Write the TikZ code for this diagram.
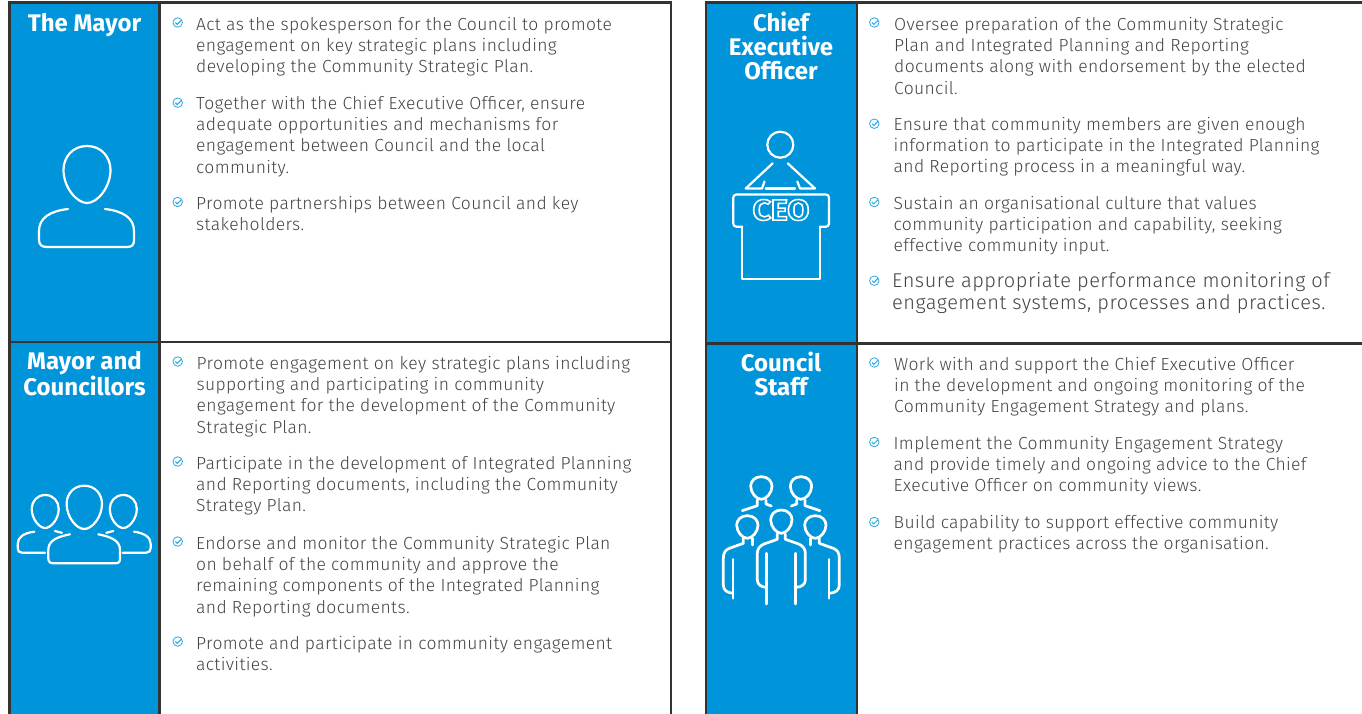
\documentclass[tikz,border=0pt]{standalone}
\usepackage{fontspec}
\setmainfont{Fira Sans}[UprightFont=* Light,BoldFont=* Bold]
\newfontfamily\bigfont{Fira Sans}[UprightFont=* Light,LetterSpace=2.6]
\newfontfamily\bodyfont{Fira Sans}[UprightFont=* Light,LetterSpace=2]
\usetikzlibrary{calc}
\definecolor{panelblue}{HTML}{0095DA}
\definecolor{edge}{HTML}{333333}
\definecolor{ink}{HTML}{444444}
\definecolor{tickblue}{HTML}{2AA8E0}
\tikzset{
 x=1pt,y=-1pt,
 panel/.style={fill=panelblue,draw=none},
 rule/.style={draw=edge,line width=2.6pt},
 title/.style={text=white,font=\fontsize{24}{24}\selectfont\bfseries,align=center,anchor=north,inner sep=0pt},
 body/.style={text=ink,font=\fontsize{17.5}{21.3}\selectfont\bodyfont,align=left,anchor=north west,inner sep=0pt},
 bodybig/.style={text=ink,font=\fontsize{20}{22}\selectfont\bigfont,align=left,anchor=north west,inner sep=0pt},
 tick/.style={circle,draw=tickblue,line width=.8pt,minimum size=9.5pt,inner sep=0pt,
   path picture={\draw[tickblue,line width=1pt] ($(path picture bounding box.center)+(-2.4,0)$) -- ++(1.9,1.9) -- ++(4.2,-4.2);}},
 icon/.style={draw=white,line width=2.2pt,line cap=round,line join=round,fill=none},
 iconthin/.style={draw=white,line width=2.2pt,line cap=round,line join=round,fill=none},
 iconheavy/.style={draw=white,line width=2.7pt,line cap=round,line join=round,fill=none},
}
\newcommand{\egg}[4]{% cx, top, half width, height
 (#1,#2) .. controls ({#1+.62*#3},#2) and ({#1+#3},{#2+.2*#4}) .. ({#1+#3},{#2+.42*#4})
 .. controls ({#1+#3},{#2+.72*#4}) and ({#1+.45*#3},{#2+#4}) .. (#1,{#2+#4})
 .. controls ({#1-.45*#3},{#2+#4}) and ({#1-#3},{#2+.72*#4}) .. ({#1-#3},{#2+.42*#4})
 .. controls ({#1-#3},{#2+.2*#4}) and ({#1-.62*#3},#2) .. (#1,#2) -- cycle}
\begin{document}
\begin{tikzpicture}
\useasboundingbox (0,0) rectangle (1362,714);
\fill[white] (0,0) rectangle (1362,714);
% panels
\fill[panel] (10,3) rectangle (158,341);
\fill[panel] (10,343) rectangle (158,714);
\fill[panel] (707,3) rectangle (856,342);
\fill[panel] (707,344) rectangle (856,714);
% rules
\draw[rule] (9.5,714) -- (9.5,2.3) -- (671,2.3) -- (671,714);
\draw[rule] (159.5,2) -- (159.5,714);
\draw[rule] (9.5,342) -- (671,342);
\draw[rule] (706,714) -- (706,2.3) -- (1362,2.3);
\draw[rule] (857,2) -- (857,714);
\draw[rule] (706,343.3) -- (1362,343.3);
% titles
\node[title] (t1) at (84.5,12.7) {The Mayor};
\node[title] (t2) at (84.5,351.2) {Mayor and\\Councillors};
\node[title] (t3) at (781,12) {Chief\\Executive\\Officer};
\node[title] (t4) at (781,352.2) {Council\\Staff};
% left top
\node[tick] (k1) at (177.7,22.5) {};
\node[body] (a1) at (196,15) {\strut Act as the spokesperson for the Council to promote\\engagement on key strategic plans including\\developing the Community Strategic Plan.};
\node[tick] (k2) at (177.7,102.7) {};
\node[body] (a2) at (196,94) {\strut Together with the Chief Executive Officer, ensure\\adequate opportunities and mechanisms for\\engagement between Council and the local\\community.};
\node[tick] (k3) at (177.7,202) {};
\node[body] (a3) at (196,194) {\strut Promote partnerships between Council and key\\stakeholders.};
% left bottom
\node[tick] (k4) at (177.7,361.5) {};
\node[body] (b1) at (196.5,354) {\strut Promote engagement on key strategic plans including\\supporting and participating in community\\engagement for the development of the Community\\Strategic Plan.};
\node[tick] (k5) at (177.7,461.5) {};
\node[body] (b2) at (196,454) {\strut Participate in the development of Integrated Planning\\and Reporting documents, including the Community\\Strategy Plan.};
\node[tick] (k6) at (177.7,541.5) {};
\node[body] (b3) at (196,534) {\strut Endorse and monitor the Community Strategic Plan\\on behalf of the community and approve the\\remaining components of the Integrated Planning\\and Reporting documents.};
\node[tick] (k7) at (177.7,641.5) {};
\node[body] (b4) at (196,634) {\strut Promote and participate in community engagement\\activities.};
% right top
\node[tick] (k8) at (874.3,22.5) {};
\node[body] (c1) at (894,15) {\strut Oversee preparation of the Community Strategic\\Plan and Integrated Planning and Reporting\\documents along with endorsement by the elected\\Council.};
\node[tick] (k9) at (874.3,123.7) {};
\node[body] (c2) at (893.5,115) {\strut Ensure that community members are given enough\\information to participate in the Integrated Planning\\and Reporting process in a meaningful way.};
\node[tick] (k10) at (874.3,202) {};
\node[body] (c3) at (893.5,194) {\strut Sustain an organisational culture that values\\community participation and capability, seeking\\effective community input.};
\node[tick] (k11) at (874.3,280.7) {};
\node[bodybig] (c4) at (892,272.3) {\strut Ensure appropriate performance monitoring of\\engagement systems, processes and practices.};
% right bottom
\node[tick] (k12) at (874.3,362.5) {};
\node[body] (d1) at (894,355) {\strut Work with and support the Chief Executive Officer\\in the development and ongoing monitoring of the\\Community Engagement Strategy and plans.};
\node[tick] (k13) at (874.3,442) {};
\node[body] (d2) at (893.5,434) {\strut Implement the Community Engagement Strategy\\and provide timely and ongoing advice to the Chief\\Executive Officer on community views.};
\node[tick] (k14) at (874.3,522) {};
\node[body] (d3) at (893.5,513) {\strut Build capability to support effective community\\engagement practices across the organisation.};
% Mayor icon
\draw[icon] \egg{87}{146}{23.5}{57};
\draw[icon] (68,209) .. controls (50,211) and (39,218) .. (39,231) -- (39,240) .. controls (39,245) and (42,247) .. (47,247) -- (127,247) .. controls (132,247) and (134,245) .. (134,240) -- (134,231) .. controls (134,218) and (123,211) .. (105,209);
% Councillors icon
\draw[iconthin] \egg{84.3}{485.7}{17.7}{43.3};
\draw[iconthin] \egg{45.2}{495}{13.5}{33};
\draw[iconthin] \egg{123.3}{495}{13.5}{33};
\draw[iconthin] (70,534.3) .. controls (56,537) and (48.3,541) .. (48.3,550) -- (48.3,558) .. controls (48.3,562) and (50,563.3) .. (54,563.3) -- (115,563.3) .. controls (119,563.3) and (120,562) .. (120,558) -- (120,550) .. controls (120,541) and (112,537) .. (98.3,534.3);
\draw[iconthin] (34.3,531.7) .. controls (24,533) and (17.7,537) .. (17.7,544) -- (17.7,548) .. controls (17.7,551) and (19,552.7) .. (22,552.7) -- (45,552.7);
\draw[iconthin] (134,531.7) .. controls (144,533) and (150.7,537) .. (150.7,544) -- (150.7,548) .. controls (150.7,551) and (149,552.7) .. (146,552.7) -- (122.7,552.7);
\draw[iconthin] (55,531) -- (62,532.8);
\draw[iconthin] (113.3,531) -- (106.3,532.8);
% CEO icon
\draw[iconthin] (780.3,144.7) circle (13);
\draw[iconthin] (772.7,163.3) -- (745.7,188.5) -- (762,188.5) -- (764.5,181.5);
\draw[iconthin] (765.7,188.5) -- (795,188.5);
\draw[iconthin] (797.3,181.5) -- (800,188.5) -- (815,188.5) -- (787.7,163.3);
\draw[iconthin,rounded corners=3pt] (742.3,226.7) -- (733.3,226.7) -- (733.3,194.5) -- (829,194.5) -- (829,226.7) -- (820,226.7);
\draw[iconthin] (742.3,226.7) -- (742.3,279) -- (820,279) -- (820,226.7);
\node[text=white,inner sep=0pt,font=\fontsize{29}{29}\selectfont\bfseries] (ceo) at (781,210) {\scalebox{1.1}[1]{\special{pdf:code 1 Tr 1.5 w 1 1 1 RG}CEO\special{pdf:code 0 Tr}}};
% Staff icon
\begin{scope}[shift={(700,460)},x=.3333pt,y=-.3333pt]
 \draw[iconheavy] \egg{184}{50}{32}{68};
 \draw[iconheavy] \egg{303}{50}{32}{68};
 \draw[iconheavy] \egg{142}{167}{32}{68};
 \draw[iconheavy] \egg{244}{150}{32}{70};
 \draw[iconheavy] \egg{346}{167}{32}{68};
 \draw[iconheavy] (172,120) -- (172,137) -- (127,152);
 \draw[iconheavy] (198,120) -- (198,132) -- (214,138);
 \draw[iconheavy] (290,120) -- (290,132) -- (274,138);
 \draw[iconheavy] (315,120) -- (315,137) -- (360,152);
 % front left
 \draw[iconheavy] (130,235) -- (130,250) -- (88,265) .. controls (75,270) and (70,280) .. (70,295) -- (70,375) .. controls (70,390) and (80,398) .. (99,400);
 \draw[iconheavy] (99,298) -- (99,415);
 \draw[iconheavy] (158,235) -- (158,255);
 % front centre
 \draw[iconheavy] (232,222) -- (232,238) -- (192,252) .. controls (178,258) and (172,268) .. (172,280) -- (172,360) .. controls (172,372) and (182,382) .. (200,382);
 \draw[iconheavy] (200,280) -- (200,432);
 \draw[iconheavy] (256,222) -- (256,238) -- (296,252) .. controls (310,258) and (316,268) .. (316,280) -- (316,360) .. controls (316,372) and (306,382) .. (287,382);
 \draw[iconheavy] (286,280) -- (286,432);
 % front right
 \draw[iconheavy] (358,235) -- (358,250) -- (400,265) .. controls (413,270) and (418,280) .. (418,295) -- (418,375) .. controls (418,390) and (408,398) .. (388,400);
 \draw[iconheavy] (387,298) -- (387,415);
 \draw[iconheavy] (332,235) -- (332,255);
\end{scope}
\end{tikzpicture}
\end{document}
